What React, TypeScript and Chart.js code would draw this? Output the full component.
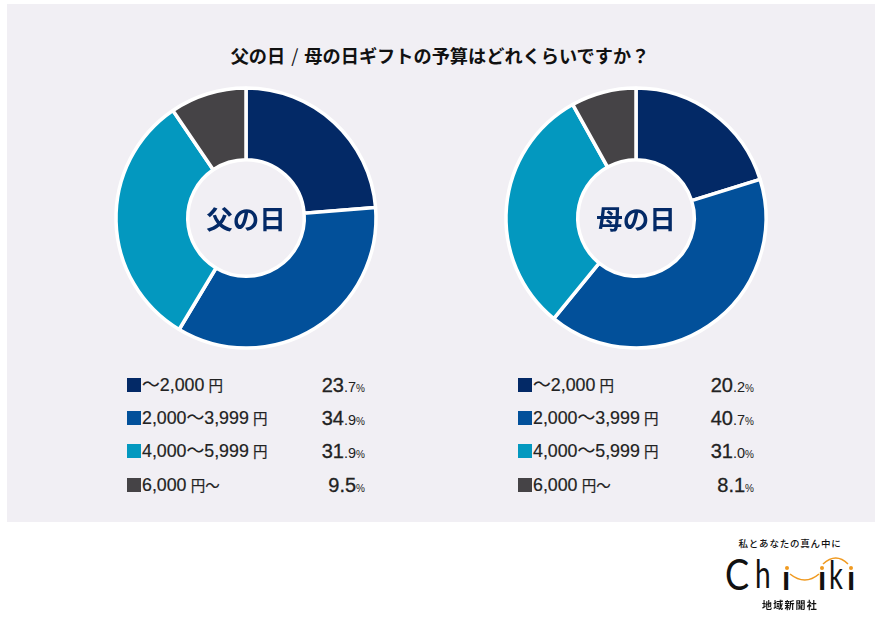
import React, { useEffect, useRef } from "react";
import { Chart, registerables } from "chart.js";

Chart.register(...registerables);

const titleParts = ["父の日", "/", "母の日ギフトの予算はどれくらいですか？"];
const colors = ["#032966", "#02509a", "#0398bf", "#454346"];
const fatherValues = [23.7, 34.9, 31.9, 9.5];
const motherValues = [20.2, 40.7, 31.0, 8.1];
const categoryParts: [string, string, string][] = [
  ["〜", "2,000", " 円"],
  ["", "2,000〜3,999", " 円"],
  ["", "4,000〜5,999", " 円"],
  ["", "6,000", " 円〜"],
];

const JP = '"Noto Sans CJK JP", sans-serif';
const LAT = '"Liberation Sans", "Noto Sans CJK JP", sans-serif';

function Donut({ values, left }: { values: number[]; left: number }) {
  const ref = useRef<HTMLCanvasElement>(null);
  useEffect(() => {
    const chart = new Chart(ref.current!, {
      type: "doughnut",
      data: {
        labels: categoryParts.map((c) => c.join("")),
        datasets: [{ data: values, backgroundColor: colors, borderColor: "#ffffff", borderWidth: 3.5, borderAlign: "center" }],
      },
      options: {
        animation: false,
        responsive: false,
        radius: 130,
        cutout: 62,
        plugins: { legend: { display: false }, tooltip: { enabled: false } },
      } as any,
    });
    return () => chart.destroy();
  }, []);
  return <canvas ref={ref} width={280} height={280} style={{ position: "absolute", left, top: 78, width: 280, height: 280 }} />;
}

function Legend({ values, x, valueRight }: { values: number[]; x: number; valueRight: number }) {
  return (
    <>
      {values.map((v, i) => {
        const s = v.toFixed(1).split(".");
        const big = s[0].length > 1;
        return (
          <React.Fragment key={i}>
            <div style={{ position: "absolute", left: x, top: 378 + i * 33.2, width: 14, height: 14, background: colors[i] }} />
            <div style={{ position: "absolute", left: x + 15, top: 373 + i * 33.2, height: 24, lineHeight: "24px", fontFamily: LAT, fontSize: 17.8, fontWeight: 400, WebkitTextStroke: "0.2px #222", color: "#222", whiteSpace: "nowrap" }}>
              {categoryParts[i][0]}{categoryParts[i][1]}
              <span style={{ fontFamily: JP, fontSize: 14.5, marginLeft: 1 }}>{categoryParts[i][2]}</span>
            </div>
            <div style={{ position: "absolute", right: 880 - valueRight, top: 373 + i * 33.2, height: 24, lineHeight: "24px", fontFamily: LAT, color: "#222", whiteSpace: "nowrap" }}>
              <span style={{ fontSize: 20, WebkitTextStroke: "0.3px #222" }}>{s[0]}</span>
              <span style={{ fontSize: big ? 14.5 : 20, WebkitTextStroke: big ? undefined : "0.3px #222" }}>.{s[1]}</span>
              <span style={{ fontSize: 10 }}>%</span>
            </div>
          </React.Fragment>
        );
      })}
    </>
  );
}

function CenterLabel({ text, cx }: { text: string; cx: number }) {
  return (
    <div style={{ position: "absolute", left: cx - 60, width: 120, top: 198, height: 40, lineHeight: "40px", textAlign: "center", fontFamily: JP, fontWeight: 700, fontSize: 26.5, color: "#032966" }}>
      {text}
    </div>
  );
}

function Logo() {
  const base: React.CSSProperties = { position: "absolute", whiteSpace: "nowrap", color: "#111" };
  const letter = (t: string, left: number, size: number, top: number, scaleX: number, weight = 700): React.ReactNode => (
    <div style={{ ...base, left, top, lineHeight: "40px", fontFamily: '"Lato", sans-serif', fontSize: size, fontWeight: weight, transform: `scaleX(${scaleX})`, transformOrigin: "left center" }}>{t}</div>
  );
  return (
    <>
      <div style={{ ...base, left: 700, width: 180, top: 534, lineHeight: "18px", textAlign: "center", fontFamily: JP, fontWeight: 500, fontSize: 9.5, letterSpacing: 0.8 }}>私とあなたの真ん中に</div>
      {letter("C", 725, 42, 554, 0.86, 400)}
      {letter("h", 755, 39, 553, 0.72, 400)}
      {letter("ı", 782, 34, 557, 0.95)}
      {letter("ı", 818, 34, 557, 0.95)}
      {letter("k", 829, 38, 554, 0.72, 400)}
      {letter("ı", 847, 34, 557, 0.95)}
      <svg width={880} height={626} style={{ position: "absolute", left: 0, top: 0, pointerEvents: "none" }}>
        <path d="M790 574 Q805 586 819 574" fill="none" stroke="#f09a20" strokeWidth={1.6} />
        <path d="M823 564 Q836 552 848 564" fill="none" stroke="#f09a20" strokeWidth={1.6} />
        <circle cx={787} cy={568} r={2} fill="#f09a20" />
        <circle cx={822} cy={568} r={2} fill="#f09a20" />
        <circle cx={851} cy={568} r={2} fill="#f09a20" />
      </svg>
      <div style={{ ...base, left: 700, width: 180, top: 596, lineHeight: "18px", textAlign: "center", fontFamily: JP, fontWeight: 700, fontSize: 10, letterSpacing: 1.2 }}>地域新聞社</div>
    </>
  );
}

export default function App() {
  useEffect(() => {
    document.body.style.margin = "0";
    document.body.style.background = "#ffffff";
  }, []);
  return (
    <div style={{ position: "absolute", left: 0, top: 0, width: 880, height: 626, overflow: "hidden", background: "#fff" }}>
      <div style={{ position: "absolute", left: 7, top: 4, width: 868, height: 518, background: "#f1eff4" }} />
      <div style={{ position: "absolute", left: 0, width: 880, top: 42, lineHeight: "26px", textAlign: "center", fontFamily: JP, fontWeight: 700, fontSize: 18.2, color: "#111", whiteSpace: "nowrap" }}>
        {titleParts[0]}
        <span style={{ fontWeight: 400, margin: "0 6px" }}>{titleParts[1]}</span>
        {titleParts[2]}
      </div>
      <Donut values={fatherValues} left={106} />
      <Donut values={motherValues} left={496} />
      <CenterLabel text="父の日" cx={246} />
      <CenterLabel text="母の日" cx={636} />
      <Legend values={fatherValues} x={127} valueRight={365} />
      <Legend values={motherValues} x={518} valueRight={754} />
      <Logo />
    </div>
  );
}
